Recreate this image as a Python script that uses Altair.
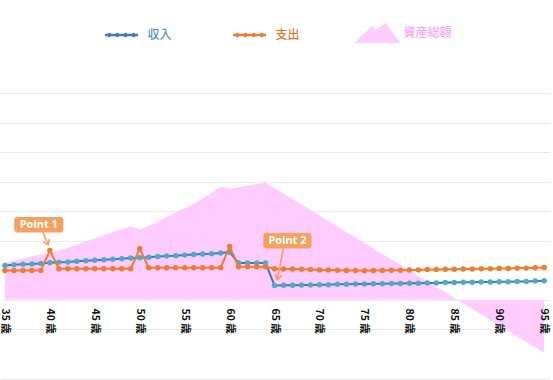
import altair as alt
import pandas as pd

# ---------------- data ----------------
ages = list(range(35, 96))
income = [116, 118, 120, 121, 123, 125, 127, 128, 130, 132, 134, 135, 137, 139, 141,
          142, 144, 146, 148, 149, 151, 153, 155, 156, 158, 161, 124, 124, 124, 124,
          48, 49, 49, 50, 50, 51, 51, 52, 52, 53, 53, 54, 54, 55, 55, 56, 56, 57, 57,
          58, 58, 59, 59, 60, 60, 61, 61, 62, 62, 63, 64]
expense = [99, 99, 99, 99, 99, 167, 105, 105, 105, 105, 105, 105, 105, 105, 105,
           173, 108, 108, 108, 108, 108, 108, 108, 108, 108, 180, 112, 112, 112, 112,
           105, 104, 104, 103, 102, 101, 101, 100, 99, 99, 98, 99, 99, 100, 100, 101,
           101, 102, 102, 103, 103, 104, 104, 105, 105, 106, 106, 107, 107, 108, 109]
assets = [125, 132, 139, 146, 153, 158, 166, 176, 186, 197, 208, 219, 229, 239, 249,
          237, 251, 264, 280, 295, 310, 325, 342, 361, 383, 376, 381, 386, 392, 397,
          378, 360, 341, 322, 304, 285, 266, 248, 229, 211, 192, 173, 155, 136, 118,
          99, 80, 62, 43, 25, 6, -13, -31, -50, -69, -87, -106, -124, -143, -161, -180]

tick_ages = [35, 40, 45, 50, 55, 60, 65, 70, 75, 80, 85, 90, 95]
grid_values = [-268.5, -100, 0, 100, 200, 300, 400, 500, 600, 700]

series_names = ["収入", "支出", "資産総額"]
series_colors = ["#4a78c2", "#ed7d31", "#ffccff"]

ann_labels = ["Point 1", "Point 2"]
ann_box_x = [36.03, 63.75]
ann_box_x2 = [41.5, 69.12]
ann_box_y = [280, 226]
ann_box_y2 = [228, 173]
ann_text_x = [38.77, 66.44]
ann_text_y = [254, 199.5]
arrow_x = [39.21, 65.97]
arrow_y = [228, 173]
arrow_tip_x = [39.82, 65.31]
arrow_tip_y = [186, 68]
arrow_angle = [335, 11]

# ---------------- styling ----------------
BLUE_LINE = "#4472c4"
BLUE_MARK = "#4bacc6"
ORANGE = "#ed7d31"
PINK = "#ffccff"
CALLOUT = "#f6a25e"
JP = "Noto Sans CJK JP"


def circles(xs, r):
    return " ".join(
        f"M{cx - r:.3f},0 A{r},{r} 0 1,1 {cx + r:.3f},0 A{r},{r} 0 1,1 {cx - r:.3f},0 Z"
        for cx in xs)


line_sym = "M-0.72,-0.055 H0.72 V0.055 H-0.72 Z " + circles([-0.53, -0.18, 0.18, 0.53], 0.1)
mountain_sym = "M-1,0.43 L-0.26,-0.28 L-0.1,-0.13 L0.36,-0.43 L1,0.43 Z"
series_shapes = [line_sym, line_sym, mountain_sym]

df = pd.DataFrame({"age": ages, "income": income, "expense": expense, "assets": assets})
ann = pd.DataFrame({"label": ann_labels, "age": ann_box_x, "age2": ann_box_x2,
                    "val": ann_box_y, "val2": ann_box_y2,
                    "tx": ann_text_x, "ty": ann_text_y})
arr = pd.DataFrame({"age": arrow_x, "val": arrow_y, "age2": arrow_tip_x,
                    "val2": arrow_tip_y, "ang": arrow_angle})
leg = pd.DataFrame({"series": series_names, "age": [35, 35, 35], "val": [0, 0, 0]})

xscale = alt.Scale(domain=[34.45, 95.65], nice=False, zero=False)
yscale = alt.Scale(domain=[-268.5, 700], nice=False, zero=False)
xaxis = alt.Axis(values=tick_ages, labelExpr="datum.value + ' 歳'", labelAngle=90,
                 offset=-79, ticks=False, domain=False, grid=False, labelPadding=8,
                 labelFont=JP, labelFontWeight="bold", labelFontSize=10.5,
                 labelColor="#111111", title=None, zindex=1, labelOffset=-0.5)
yaxis = alt.Axis(values=grid_values, labels=False, ticks=False, domain=False,
                 grid=True, gridColor="#ebebeb", gridWidth=1, title=None)


def X(field):
    return alt.X(field, type="quantitative", scale=xscale, axis=xaxis)


def Y(field):
    return alt.Y(field, type="quantitative", scale=yscale, axis=yaxis)


base = alt.Chart(df)
area = base.mark_area(color=PINK, opacity=1).encode(x=X("age"), y=Y("assets"))
inc_line = base.mark_line(color=BLUE_LINE, strokeWidth=2).encode(x=X("age"), y=Y("income"))
inc_pts = base.mark_circle(color=BLUE_MARK, size=30, opacity=1).encode(x=X("age"), y=Y("income"))
exp_line = base.mark_line(color=ORANGE, strokeWidth=2).encode(x=X("age"), y=Y("expense"))
exp_pts = base.mark_circle(color=ORANGE, size=30, opacity=1).encode(x=X("age"), y=Y("expense"))

boxes = alt.Chart(ann).mark_rect(color=CALLOUT, cornerRadius=3).encode(
    x=X("age"), x2="age2", y=Y("val"), y2="val2")
box_text = alt.Chart(ann).mark_text(color="white", font="Noto Sans", fontWeight="bold",
                                     fontSize=11).encode(x=X("tx"), y=Y("ty"), text="label")
arrow_lines = alt.Chart(arr).mark_rule(color=CALLOUT, strokeWidth=1.6).encode(
    x=X("age"), x2="age2", y=Y("val"), y2="val2")
arrow_heads = alt.Chart(arr).mark_point(
    shape="M-1,-1.4 L0,0 L1,-1.4", filled=False, color=CALLOUT, size=49, strokeWidth=1.6,
    opacity=1).encode(x=X("age2"), y=Y("val2"), angle=alt.Angle("ang:Q", scale=None))

legend = alt.Legend(orient="none", legendX=98.5, legendY=-83, direction="horizontal",
                    title=None, padding=0, columnPadding=54, labelOffset=3,
                    labelFont=JP, labelFontSize=12, labelFontWeight=500,
                    labelColor=alt.ExprRef(expr="datum.value == '収入' ? '#5b8fd0' : "
                                                "(datum.value == '支出' ? '#e8731e' : '#f7a6f7')"),
                    symbolSize=2116, symbolOpacity=1, symbolStrokeWidth=0)
legend_layer = alt.Chart(leg).mark_point(filled=True, opacity=0).encode(
    x=X("age"), y=Y("val"),
    color=alt.Color("series:N", scale=alt.Scale(domain=series_names, range=series_colors),
                    legend=legend),
    shape=alt.Shape("series:N", scale=alt.Scale(domain=series_names, range=series_shapes),
                    legend=legend),
).transform_filter("false")

chart = alt.layer(area, inc_line, inc_pts, exp_line, exp_pts, arrow_lines, arrow_heads,
                  boxes, box_text, legend_layer).properties(
    width=550, height=286,
    autosize=alt.AutoSizeParams(type="none"),
    padding={"left": 0, "top": 93, "right": 3, "bottom": 1},
    background="white",
).configure_view(stroke=None)

chart.save("out.html", embed_options={"renderer": "svg", "actions": False})
